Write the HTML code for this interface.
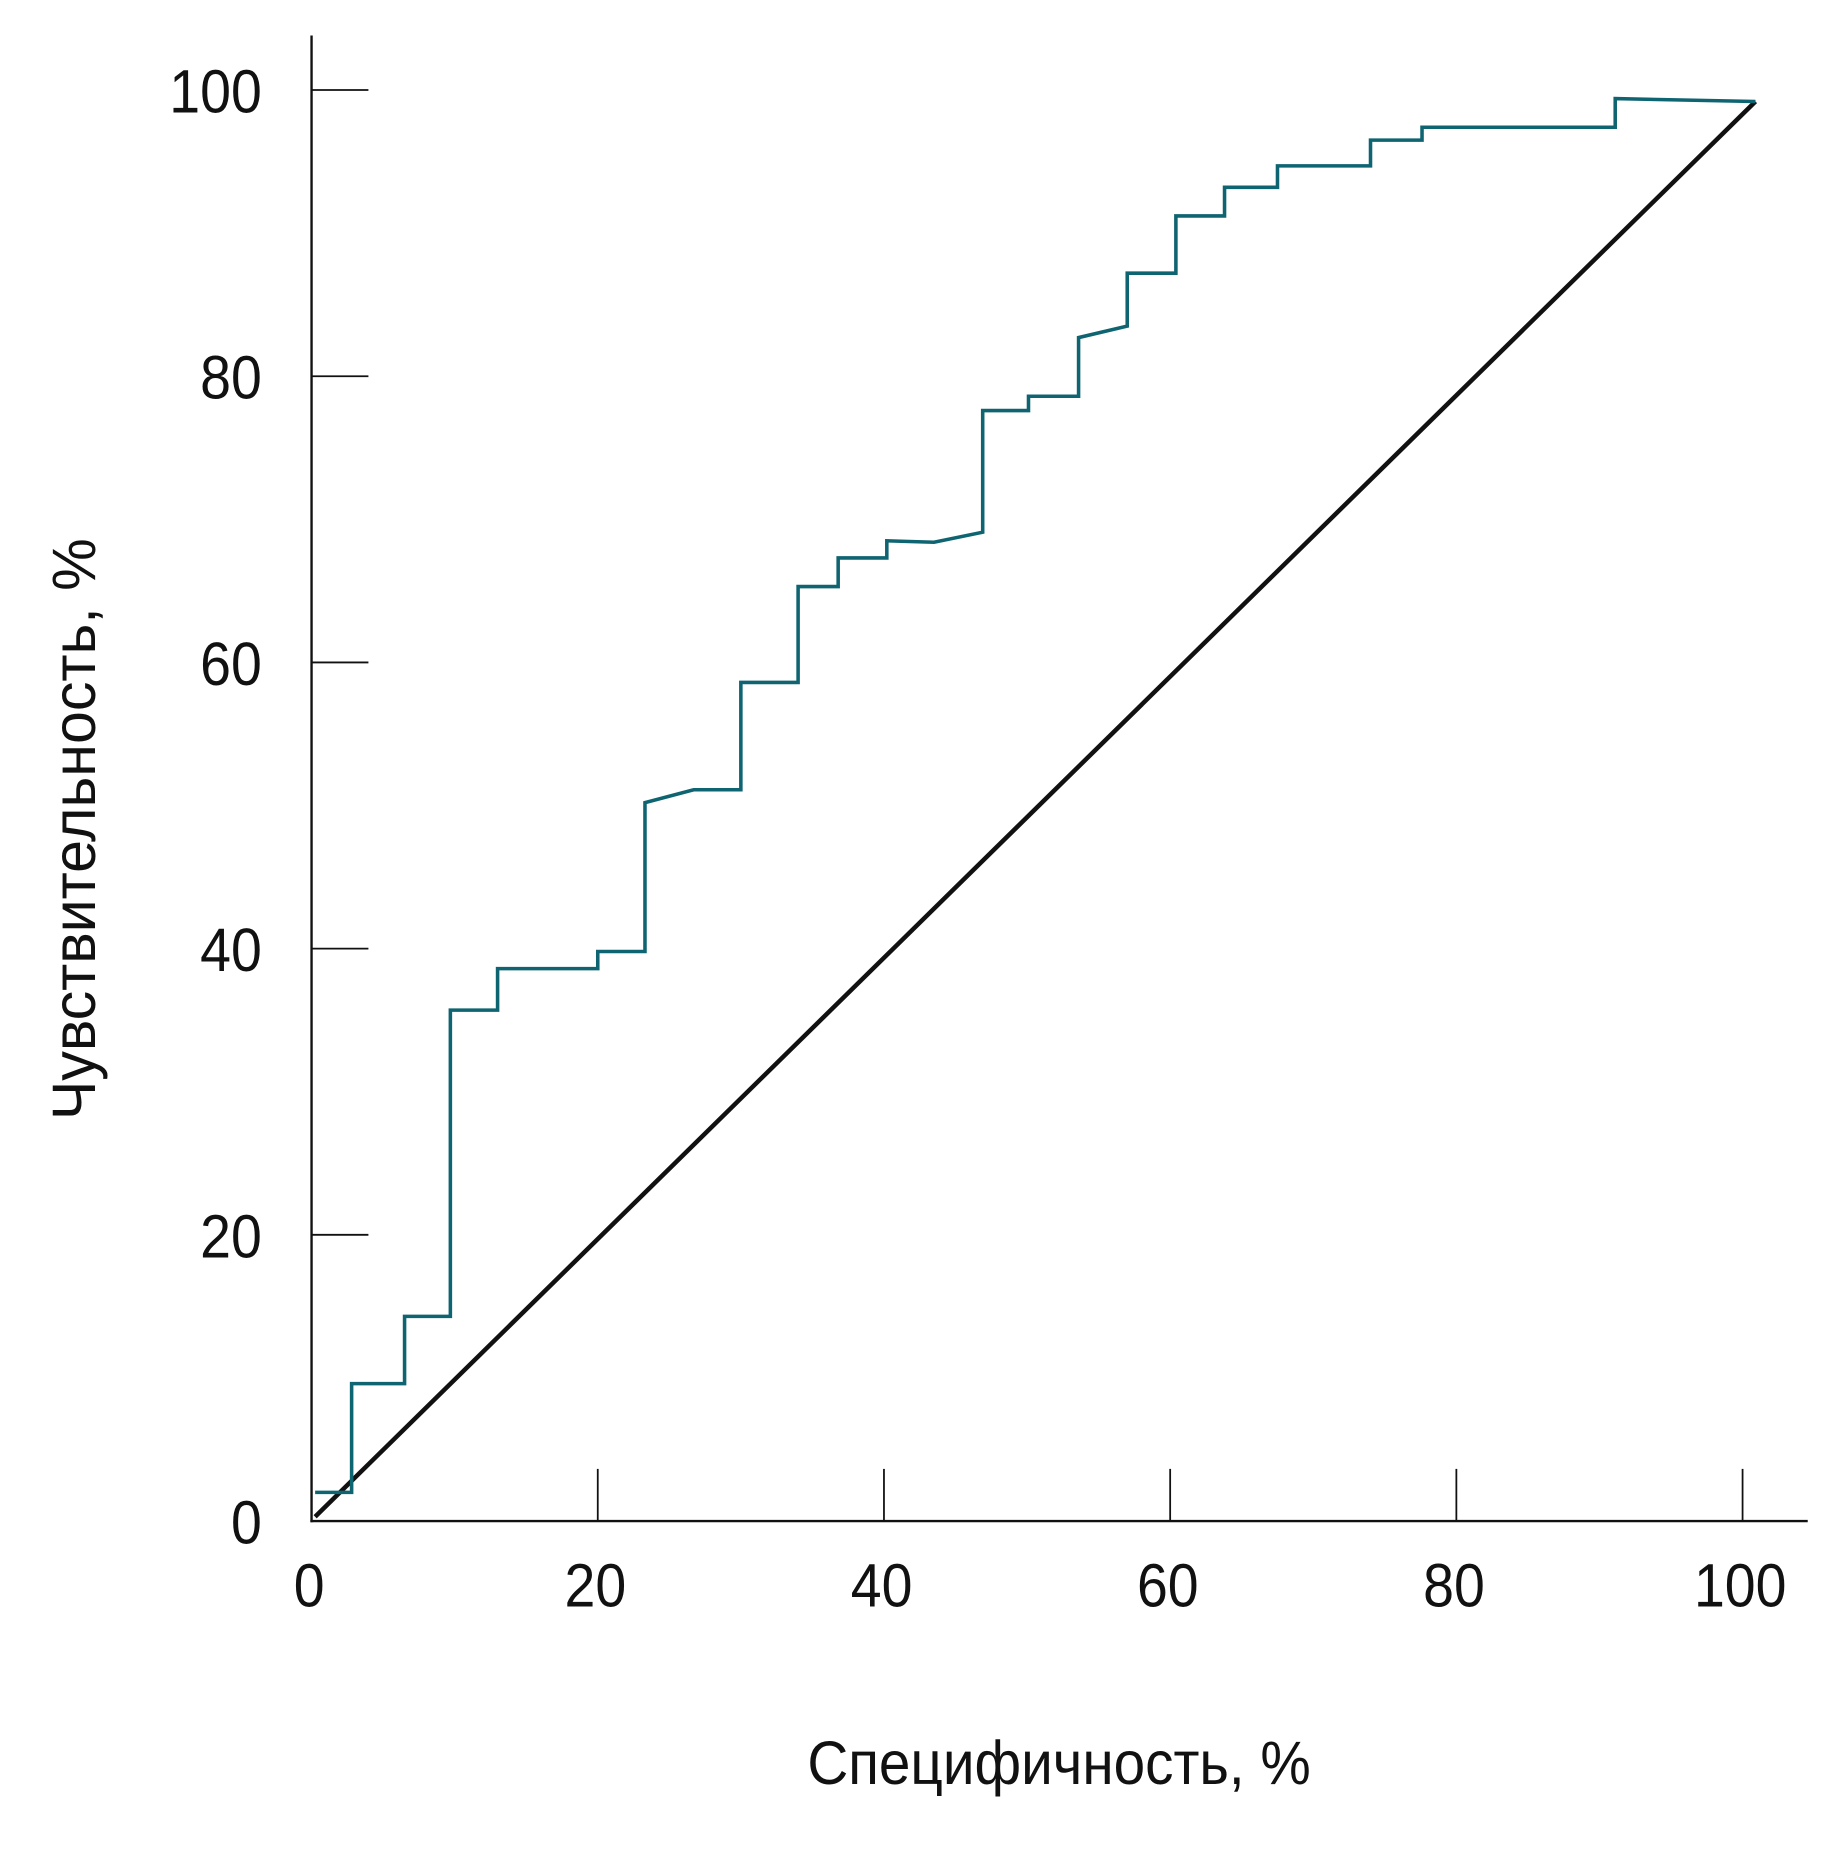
<!DOCTYPE html>
<html><head><meta charset="utf-8"><style>
html,body{margin:0;padding:0;background:#fff;}
svg{display:block;}
text{font-family:"Liberation Sans","DejaVu Sans",sans-serif;fill:#111;}
</style></head><body>
<svg id="chart" width="1848" height="1870" viewBox="0 0 1560 1578.6" preserveAspectRatio="none" xmlns="http://www.w3.org/2000/svg">
<g id="axes"></g>
<g id="marks"></g>
<text x="0" y="0" font-size="52" text-anchor="middle" transform="translate(894,1506) scale(0.92,1)">Специфичность, %</text>
<text x="0" y="0" font-size="52" text-anchor="middle" transform="translate(80,700) rotate(-90) scale(0.96,1)">Чувствительность, %</text>
</svg>
<script>
const xTicks = [0, 20, 40, 60, 80, 100];
const yTicks = [0, 20, 40, 60, 80, 100];
const specificity = [0.25, 2.8, 2.8, 6.5, 6.5, 9.7, 9.7, 13.0, 13.0, 20.0, 20.0, 23.3, 23.3, 26.7, 30.0, 30.0, 34.0, 34.0, 36.8, 36.8, 40.2, 40.2, 43.5, 46.9, 46.9, 50.1, 50.1, 53.6, 53.6, 57.0, 57.0, 60.4, 60.4, 63.8, 63.8, 67.5, 67.5, 74.0, 74.0, 77.6, 77.6, 91.1, 91.1, 100.9];
const sensitivity = [2.0, 2.0, 9.6, 9.6, 14.3, 14.3, 35.7, 35.7, 38.6, 38.6, 39.8, 39.8, 50.2, 51.1, 51.1, 58.6, 58.6, 65.3, 65.3, 67.3, 67.3, 68.5, 68.4, 69.1, 77.6, 77.6, 78.6, 78.6, 82.7, 83.5, 87.2, 87.2, 91.2, 91.2, 93.2, 93.2, 94.7, 94.7, 96.5, 96.5, 97.4, 97.4, 99.4, 99.2];
const diagX = [0.25, 100.9];
const diagY = [0.3, 99.2];

const NS = "http://www.w3.org/2000/svg";
function sx(v){ return 263 + v * 12.08; }
function sy(v){ return 1284 - v * 12.08; }
function mk(tag, attrs, parent){
  const e = document.createElementNS(NS, tag);
  for (const k in attrs) e.setAttribute(k, attrs[k]);
  parent.appendChild(e);
  return e;
}
const axes = document.getElementById('axes');
const marks = document.getElementById('marks');

let yAxis = mk('line', {x1:263, y1:30, x2:263, y2:1285, stroke:'#111', 'stroke-width':2}, axes);


let xAxis = mk('line', {x1:262, y1:1284, x2:1526, y2:1284, stroke:'#111', 'stroke-width':2}, axes);



xTicks.forEach(function(t){
  if (t > 0) {
    let tk = mk('line', {x1:sx(t), y1:1240, x2:sx(t), y2:1284, stroke:'#111', 'stroke-width':1.5}, axes);
    
    
  }
  let lb = mk('text', {x:0, y:0, 'font-size':52, 'text-anchor':'middle', transform:'translate(' + (sx(t) - 2) + ',1356) scale(0.9,1)'}, axes);
  lb.textContent = t;
  
  
});
yTicks.forEach(function(t){
  if (t > 0) {
    let tk = mk('line', {x1:263, y1:sy(t), x2:311, y2:sy(t), stroke:'#111', 'stroke-width':1.5}, axes);
    
    
  }
  let lb = mk('text', {x:0, y:0, 'font-size':52, 'text-anchor':'end', transform:'translate(221,' + (sy(t) + 19) + ') scale(0.9,1)'}, axes);
  lb.textContent = t;
  
  
});

let dpts = diagX.map(function(v,i){ return sx(v) + ',' + sy(diagY[i]); }).join(' ');
let diag = mk('polyline', {points:dpts, fill:'none', stroke:'#111', 'stroke-width':3.8}, marks);



let pts = specificity.map(function(v,i){ return sx(v) + ',' + sy(sensitivity[i]); }).join(' ');
let roc = mk('polyline', {points:pts, fill:'none', stroke:'#0f6472', 'stroke-width':3, 'stroke-linejoin':'miter'}, marks);


</script>
</body></html>
